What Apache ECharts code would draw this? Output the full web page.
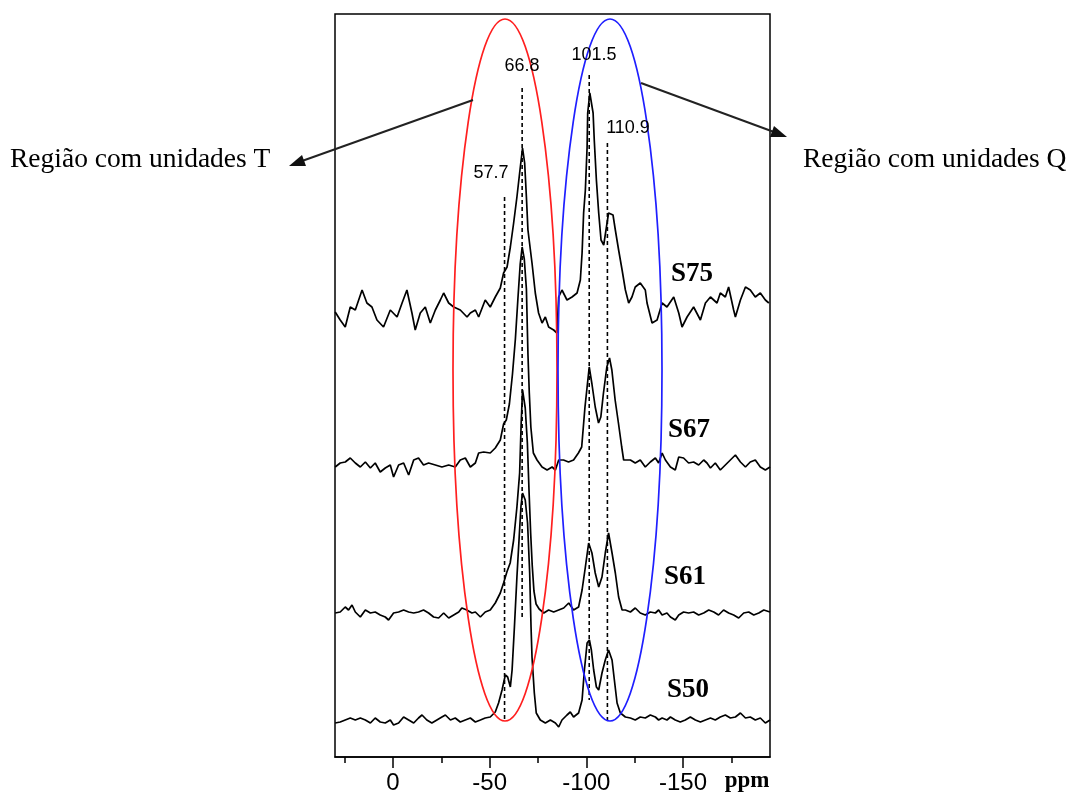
<!DOCTYPE html>
<html>
<head>
<meta charset="utf-8">
<script src="https://cdn.jsdelivr.net/npm/echarts@6/dist/echarts.min.js"></script>
<style>
  html, body { margin: 0; padding: 0; background: #fff; }
  #chart { width: 1073px; height: 797px; }
</style>
</head>
<body>
<div id="chart"></div>
<script>
// 29Si NMR spectra, [ppm, intensity above the trace baseline]
const s75 = [
  [29.9,6],[27.3,-2],[24.7,-9],[22.1,11],[19.5,8],[16.0,28],[13.5,15],[10.9,11],[8.3,-2],[4.9,-9],[1.4,8],
  [-2.1,1],[-4.7,15],[-7.2,28],[-9.8,5],[-11.5,-12],[-14.1,5],[-16.7,11],[-19.3,-5],[-21.9,8],[-24.5,18],
  [-26.2,25],[-28.8,15],[-31.4,11],[-34.8,8],[-38.3,1],[-40.0,5],[-42.6,8],[-44.3,1],[-47.7,18],[-50.3,11],
  [-52.9,21],[-55.5,30],[-57.2,45],[-59.0,51],[-60.7,71],[-62.4,95],[-64.1,121],[-65.5,145],[-67.0,170],
  [-68.1,155],[-69.0,121],[-69.8,88],[-71.9,55],[-73.6,25],[-75.3,5],[-77.1,-5],[-78.8,1],[-80.5,-9],
  [-83.1,-12],[-84.8,-15],[-85.7,21],[-87.4,28],[-90.0,18],[-92.6,21],[-95.2,25],[-96.9,38],[-97.8,65],
  [-98.6,105],[-99.5,128],[-100.4,171],[-100.7,205],[-101.8,225],[-103.5,205],[-104.1,178],[-105.2,138],
  [-106.4,105],[-107.6,78],[-109.0,73],[-110.4,91],[-111.5,105],[-113.8,103],[-115.0,88],[-116.7,68],
  [-118.5,48],[-120.2,28],[-121.9,15],[-123.6,21],[-125.3,31],[-127.9,35],[-130.5,28],[-131.4,15],
  [-134.0,-5],[-136.6,-2],[-139.2,15],[-141.7,11],[-145.2,21],[-147.8,5],[-149.5,-9],[-152.1,1],[-155.5,11],
  [-159.0,-2],[-161.6,15],[-164.2,21],[-167.6,15],[-169.3,25],[-171.9,21],[-173.6,31],[-176.2,8],[-177.1,1],
  [-179.7,18],[-182.3,31],[-184.8,28],[-187.4,21],[-190.0,25],[-192.6,18],[-194.4,15]
];
const s67 = [
  [29.9,-3],[27.3,1],[24.7,2],[22.1,6],[19.5,1],[16.9,-3],[14.3,2],[11.7,-4],[9.2,1],[6.6,-8],[4.0,-4],
  [1.4,-1],[-0.3,-13],[-2.9,-1],[-5.5,1],[-8.1,-11],[-10.7,4],[-13.2,6],[-15.8,-1],[-18.4,1],[-21.9,-1],
  [-25.3,-3],[-28.8,-1],[-32.2,-3],[-34.8,4],[-37.4,6],[-40.0,-3],[-42.6,1],[-44.3,11],[-46.9,12],[-50.3,11],
  [-52.9,16],[-55.5,24],[-57.2,40],[-58.6,44],[-60.2,60],[-61.8,90],[-63.3,125],[-64.6,165],[-65.8,200],
  [-66.8,217],[-67.9,205],[-69.0,175],[-69.8,110],[-70.5,71],[-71.3,37],[-72.6,11],[-74.5,4],[-77.1,-3],
  [-79.7,-6],[-82.3,-3],[-84.0,-6],[-85.7,4],[-88.2,4],[-90.8,2],[-93.4,4],[-95.9,11],[-97.6,17],[-99.3,57],
  [-100.4,77],[-101.5,97],[-102.9,80],[-104.6,57],[-106.3,41],[-107.5,47],[-108.8,70],[-110.6,97],
  [-112.0,106],[-113.2,94],[-114.9,64],[-116.6,41],[-118.3,17],[-119.3,4],[-120.2,6],[-122.8,4],[-125.3,1],
  [-127.9,4],[-130.5,-3],[-133.1,2],[-135.7,6],[-137.4,1],[-139.2,11],[-140.9,4],[-143.5,-3],[-146.0,-6],
  [-147.8,7],[-150.3,6],[-152.9,1],[-155.5,2],[-158.1,-1],[-160.7,4],[-162.4,1],[-164.2,-4],[-166.7,1],
  [-169.3,-6],[-171.9,-1],[-174.5,4],[-177.1,9],[-179.7,2],[-182.3,-3],[-184.8,2],[-187.4,4],[-190.0,-3],
  [-192.6,-6],[-195.0,-3]
];
const s61 = [
  [29.9,0],[27.3,1],[24.7,6],[23.0,3],[21.2,8],[19.5,1],[16.9,-4],[14.3,3],[11.7,0],[9.2,1],[6.6,-2],
  [4.0,-4],[2.3,-7],[-0.3,0],[-2.9,1],[-5.5,3],[-8.1,1],[-10.7,0],[-13.2,1],[-15.8,3],[-18.4,0],[-21.0,-4],
  [-23.6,-5],[-26.2,0],[-28.8,-5],[-31.4,-2],[-34.0,1],[-35.6,5],[-38.2,3],[-40.8,0],[-42.6,1],[-45.2,-4],
  [-47.7,1],[-50.3,3],[-52.9,10],[-55.5,20],[-57.2,30],[-58.9,41],[-60.6,50],[-62.4,73],[-64.1,106],
  [-65.5,140],[-66.3,190],[-67.0,223],[-68.4,205],[-69.5,170],[-70.4,120],[-71.2,80],[-72.0,48],[-72.9,22],
  [-74.0,9],[-75.6,4],[-78.0,0],[-80.5,3],[-83.1,1],[-85.7,3],[-88.3,5],[-90.9,10],[-93.4,3],[-96.0,6],
  [-97.8,23],[-99.5,46],[-101.2,70],[-102.9,60],[-104.6,40],[-106.4,26],[-108.1,36],[-109.8,60],[-111.5,80],
  [-113.3,60],[-115.0,40],[-116.7,16],[-118.5,3],[-120.2,3],[-122.8,1],[-125.3,5],[-127.9,0],[-130.5,-2],
  [-133.1,1],[-135.7,0],[-137.4,3],[-139.2,-2],[-141.7,0],[-143.5,-4],[-146.0,-7],[-147.8,-2],[-150.3,1],
  [-152.9,0],[-155.5,1],[-158.1,-2],[-160.7,0],[-163.3,3],[-165.9,1],[-168.4,-2],[-171.0,3],[-173.6,0],
  [-176.2,-2],[-178.8,-5],[-181.4,0],[-184.0,1],[-186.6,-2],[-189.2,0],[-191.8,3],[-195.0,1]
];
const s50 = [
  [29.9,-2],[27.3,-1],[24.7,1],[22.1,3],[19.5,1],[16.9,3],[14.3,1],[11.7,-2],[9.2,3],[6.6,-1],[4.0,-2],
  [1.4,1],[-0.3,-4],[-2.9,-2],[-5.5,4],[-8.1,1],[-10.7,-2],[-13.2,3],[-15.0,6],[-17.5,1],[-20.1,-2],
  [-22.7,1],[-25.3,4],[-27.1,6],[-29.7,1],[-32.2,3],[-34.8,-1],[-37.4,1],[-40.0,3],[-42.6,-1],[-45.2,1],
  [-47.7,3],[-50.3,4],[-52.9,9],[-54.6,18],[-56.4,31],[-58.1,46],[-59.3,44],[-60.7,34],[-61.6,51],
  [-62.8,94],[-64.1,144],[-65.3,185],[-66.2,215],[-67.0,228],[-68.4,221],[-69.6,198],[-70.7,148],
  [-71.4,94],[-71.9,64],[-73.1,28],[-74.1,8],[-76.2,1],[-78.8,-2],[-81.4,1],[-84.0,-2],[-85.7,-6],
  [-87.4,1],[-90.0,6],[-91.7,9],[-93.4,4],[-96.0,8],[-97.8,21],[-99.0,51],[-100.4,78],[-101.6,81],
  [-102.6,71],[-103.8,51],[-105.2,34],[-106.4,31],[-108.1,48],[-109.8,61],[-111.5,71],[-113.3,61],
  [-114.5,41],[-115.9,18],[-117.6,8],[-120.2,4],[-122.8,3],[-125.3,1],[-127.9,4],[-130.5,3],[-133.1,6],
  [-135.7,4],[-137.4,1],[-139.2,3],[-141.7,1],[-143.5,4],[-146.0,1],[-148.6,-1],[-151.2,1],[-153.8,4],
  [-156.4,1],[-159.0,-1],[-161.6,1],[-164.2,3],[-166.7,1],[-169.3,4],[-171.9,6],[-174.5,3],[-177.1,4],
  [-179.7,8],[-182.3,3],[-184.8,4],[-187.4,1],[-190.0,3],[-192.6,-2],[-195.0,1]
];

// vertical offset of each stacked trace
const traces = [
  { name: 'S75', data: s75, base: 439 },
  { name: 'S67', data: s67, base: 293 },
  { name: 'S61', data: s61, base: 144 },
  { name: 'S50', data: s50, base: 36 }
];

// dotted peak markers
const peakPpm = [-57.7, -66.8, -101.5, -110.9];
const peakTop = [560, 669, 682, 614];
const peakBottom = [35, 140, 57, 35];

const majorTicks = [0, -50, -100, -150];
const minorTicks = [25, -25, -75, -125, -175];

function initChart(dom) {
    const chart = echarts.init(dom, null, { renderer: 'canvas' });

    var series = [];
    traces.forEach(function (t) {
        series.push({
            name: t.name,
            type: 'line',
            showSymbol: false,
            symbol: 'none',
            data: t.data.map(function (p) { return [p[0], p[1] + t.base]; }),
            lineStyle: { color: '#000', width: 1.7 },
            z: 3
        });
    });
    for (var i = 0; i < peakPpm.length; i++) {
        series.push({
            type: 'line',
            symbol: 'none',
            data: [[peakPpm[i], peakTop[i]], [peakPpm[i], peakBottom[i]]],
            lineStyle: { color: '#000', width: 1.6, type: [4, 3] },
            z: 2
        });
    }

    const serif = '"Liberation Serif", "Times New Roman", serif';
    const sans = '"Liberation Sans", Arial, sans-serif';

    var option = {
        animation: false,
        backgroundColor: '#fff',
        grid: {
            left: 335, right: 303, top: 14, bottom: 40,
            show: true, borderColor: '#000', borderWidth: 1.5, backgroundColor: 'transparent'
        },
        xAxis: [
            {
                type: 'value', min: -195, max: 30, inverse: true,
                axisLine: { show: true, lineStyle: { color: '#000', width: 1.5 } },
                axisTick: { show: true, length: 11, customValues: majorTicks, lineStyle: { color: '#000', width: 1.5 } },
                axisLabel: { customValues: majorTicks, color: '#000', fontSize: 24, fontFamily: sans, margin: 14 },
                splitLine: { show: false }
            },
            {
                type: 'value', min: -195, max: 30, inverse: true, position: 'bottom',
                axisLine: { show: false },
                axisTick: { show: true, length: 6, customValues: minorTicks, lineStyle: { color: '#000', width: 1.5 } },
                axisLabel: { show: false },
                splitLine: { show: false }
            }
        ],
        yAxis: {
            type: 'value', min: 0, max: 743, show: false, splitLine: { show: false }
        },
        series: series,
        graphic: [
            // ellipses marking the T and Q regions
            { type: 'ellipse', z: 100, shape: { cx: 505, cy: 370, rx: 52, ry: 351 },
              style: { fill: 'none', stroke: '#ff1f1f', lineWidth: 1.7 } },
            { type: 'ellipse', z: 100, shape: { cx: 610, cy: 370, rx: 52, ry: 351 },
              style: { fill: 'none', stroke: '#1f1fff', lineWidth: 1.7 } },
            // arrows
            { type: 'line', z: 100, shape: { x1: 473, y1: 100, x2: 302, y2: 161 },
              style: { stroke: '#222', lineWidth: 2 } },
            { type: 'polygon', z: 100, shape: { points: [[289, 166], [302, 155], [306, 166]] },
              style: { fill: '#111' } },
            { type: 'line', z: 100, shape: { x1: 641, y1: 83, x2: 774, y2: 132 },
              style: { stroke: '#222', lineWidth: 2 } },
            { type: 'polygon', z: 100, shape: { points: [[787, 137], [770, 137], [774, 126]] },
              style: { fill: '#111' } },
            // region captions
            { type: 'text', x: 10, y: 160, z: 100,
              style: { text: 'Região com unidades T', fontSize: 27.5, fontFamily: serif, fill: '#000', align: 'left', verticalAlign: 'middle' } },
            { type: 'text', x: 803, y: 160, z: 100,
              style: { text: 'Região com unidades Q', fontSize: 27.5, fontFamily: serif, fill: '#000', align: 'left', verticalAlign: 'middle' } },
            // peak positions
            { type: 'text', x: 491, y: 173, z: 100,
              style: { text: '57.7', fontSize: 18, fontFamily: sans, fill: '#000', align: 'center', verticalAlign: 'middle' } },
            { type: 'text', x: 522, y: 66, z: 100,
              style: { text: '66.8', fontSize: 18, fontFamily: sans, fill: '#000', align: 'center', verticalAlign: 'middle' } },
            { type: 'text', x: 594, y: 55, z: 100,
              style: { text: '101.5', fontSize: 18, fontFamily: sans, fill: '#000', align: 'center', verticalAlign: 'middle' } },
            { type: 'text', x: 628, y: 128, z: 100,
              style: { text: '110.9', fontSize: 18, fontFamily: sans, fill: '#000', align: 'center', verticalAlign: 'middle' } },
            // sample names
            { type: 'text', x: 692, y: 274, z: 100,
              style: { text: 'S75', fontSize: 27, fontWeight: 'bold', fontFamily: serif, fill: '#000', align: 'center', verticalAlign: 'middle' } },
            { type: 'text', x: 689, y: 430, z: 100,
              style: { text: 'S67', fontSize: 27, fontWeight: 'bold', fontFamily: serif, fill: '#000', align: 'center', verticalAlign: 'middle' } },
            { type: 'text', x: 685, y: 577, z: 100,
              style: { text: 'S61', fontSize: 27, fontWeight: 'bold', fontFamily: serif, fill: '#000', align: 'center', verticalAlign: 'middle' } },
            { type: 'text', x: 688, y: 690, z: 100,
              style: { text: 'S50', fontSize: 27, fontWeight: 'bold', fontFamily: serif, fill: '#000', align: 'center', verticalAlign: 'middle' } },
            // axis unit
            { type: 'text', x: 747, y: 781, z: 100,
              style: { text: 'ppm', fontSize: 23, fontWeight: 'bold', fontFamily: serif, fill: '#000', align: 'center', verticalAlign: 'middle' } }
        ]
    };

    chart.setOption(option);
    return chart;
}

initChart(document.getElementById('chart'));
</script>
</body>
</html>
